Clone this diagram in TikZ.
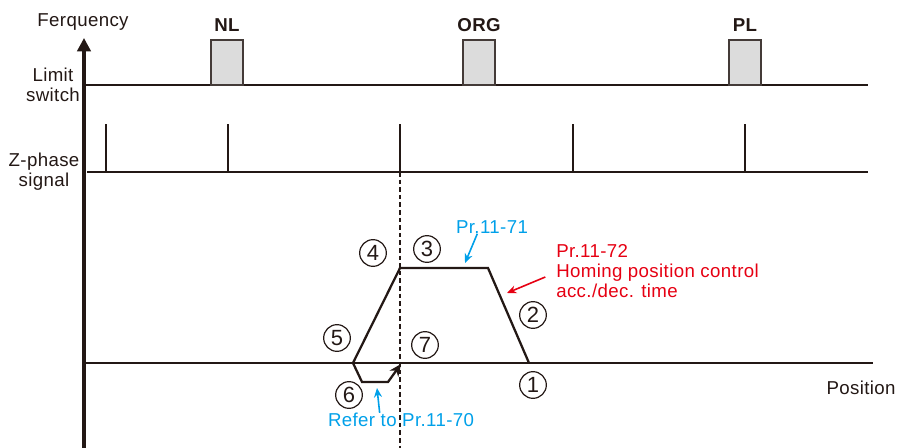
\documentclass[tikz,border=0pt]{standalone}
\usepackage{fontspec}
\setmainfont{Liberation Sans}[LetterSpace=2]
\definecolor{LineBlack}{HTML}{231815}
\definecolor{ParBlue}{HTML}{00A0E9}
\definecolor{ParRed}{HTML}{E60012}
\definecolor{BoxGray}{HTML}{DCDCDC}
\usetikzlibrary{arrows.meta,positioning}

\begin{document}
\begin{tikzpicture}[x=0.75pt,y=-0.75pt,
    every node/.style={font=\fontsize{14}{15}\selectfont,text=LineBlack,inner sep=0pt,align=center},
    axisline/.style={draw=LineBlack,line width=2.4pt},
    signalline/.style={draw=LineBlack,line width=2.1pt},
    pulse/.style={draw=LineBlack,line width=1.7pt},
    profile/.style={draw=LineBlack,line width=1.7pt,line join=miter},
    switchbox/.style={draw=LineBlack!85,fill=BoxGray,line width=1.5pt,minimum width=24pt,minimum height=33.5pt},
    switchname/.style={font=\bfseries\fontsize{14}{15}\selectfont},
    numcircle/.style={draw=LineBlack,circle,line width=0.9pt,minimum size=20pt,font=\fontsize{16.5}{16.5}\selectfont},
    bluenote/.style={text=ParBlue},
    rednote/.style={text=ParRed,align=left}]
  \useasboundingbox (0,0) rectangle (898,448);

  % axis and row titles
  \draw[axisline,-{Triangle[width=10pt,length=10pt]}] (84,448) -- (84,38);
  \node (freq) at (83,22) {Ferquency};
  \node (limit) at (53,85) {Limit\\switch};
  \node (zphase) at (44,172) {Z-phase\\signal};
  \node (pos) at (861,388) {Position};

  % limit switch row
  \draw[signalline] (84,85) -- (868,85);
  \node[switchbox] (nl) at (227,62.5) {};
  \node[switchbox] (org) at (479,62.5) {};
  \node[switchbox] (pl) at (745,62.5) {};
  \node[switchname] (nltxt) at (227,25) {NL};
  \node[switchname] (orgtxt) at (479,25) {ORG};
  \node[switchname] (pltxt) at (745,25) {PL};

  % Z-phase row
  \draw[signalline] (87,172) -- (868,172);
  \foreach \x in {106,228,400,573,745}
    \draw[pulse] (\x,172) -- (\x,124);

  % position axis
  \draw[signalline] (84,363) -- (873,363);

  % homing speed profile
  \coordinate (start) at (529,363);
  \coordinate (decTop) at (488,268);
  \coordinate (accTop) at (400,268);
  \coordinate (cross) at (353,363);
  \coordinate (lowL) at (362,382);
  \coordinate (lowR) at (388,382);
  \coordinate (home) at (401,364);
  \draw[profile,-{Stealth[length=9pt,width=8pt]}] (start) -- (decTop) -- (accTop) -- (cross) -- (lowL) -- (lowR) -- (home);

  \draw[LineBlack,line width=2.1pt,dash pattern=on 3.5pt off 2.2pt] (400,172) -- (400,448);

  % step numbers
  \foreach \n/\x/\y in {1/533/385,2/533/315,3/427/249,4/373/253,5/337/338,6/349/395,7/425/345}
    \node[numcircle] (n\n) at (\x,\y) {\n};

  % parameter notes
  \node[bluenote] (pr71) at (492,227) {Pr.11-71};
  \coordinate (pr71tip) at (465,263);
  \draw[ParBlue,line width=1.2pt,-{Stealth[length=7pt,width=6pt]}] ([xshift=-11pt]pr71.south) -- (pr71tip);

  \node[bluenote] (pr70) at (401,420) {Refer to Pr.11-70};
  \coordinate (pr70tip) at (377,388);
  \draw[ParBlue,line width=1.2pt,-{Stealth[length=7pt,width=6pt]}] ([xshift=-16pt]pr70.north) -- (pr70tip);

  \node[rednote,anchor=west] (pr72) at (556,271) {Pr.11-72\\Homing position control\\acc./dec. time};
  \coordinate (pr72tip) at (507,293);
  \draw[ParRed,line width=1.2pt,-{Stealth[length=7pt,width=6pt]}] ([xshift=-8pt,yshift=-4.5pt]pr72.west) -- (pr72tip);
\end{tikzpicture}
\end{document}
